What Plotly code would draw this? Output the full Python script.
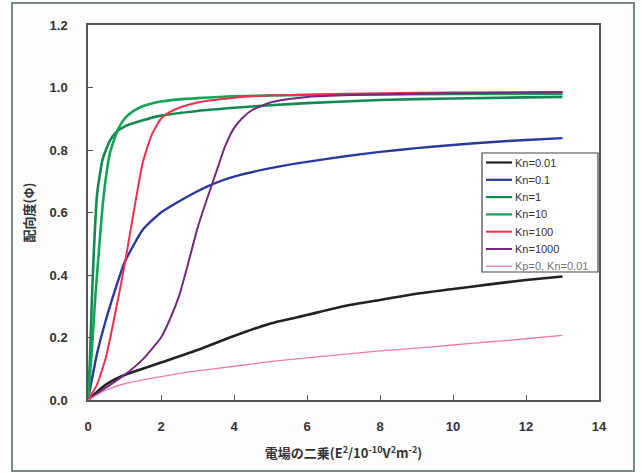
import plotly.graph_objects as go

# ---- data ----
x_kn001 = [0, 0.5, 1, 2, 3, 4, 5, 6, 7, 8, 9, 10, 11, 12, 13]
y_kn001 = [0, 0.05, 0.08, 0.12, 0.16, 0.205, 0.245, 0.272, 0.3, 0.32, 0.34, 0.355, 0.37, 0.384, 0.395]

x_kn01 = [0, 0.25, 0.5, 0.75, 1, 1.5, 2, 2.5, 3, 3.5, 4, 5, 6, 7, 8, 9, 10, 11, 12, 13]
y_kn01 = [0, 0.15, 0.26, 0.355, 0.44, 0.545, 0.6, 0.636, 0.668, 0.695, 0.715, 0.742, 0.762, 0.779, 0.794, 0.806, 0.816, 0.825, 0.832, 0.838]

x_kn1 = [0, 0.05, 0.1, 0.15, 0.25, 0.4, 0.6, 0.8, 1.0, 1.5, 2, 3, 4, 5, 6, 8, 10, 13]
y_kn1 = [0, 0.12, 0.3, 0.45, 0.66, 0.77, 0.83, 0.86, 0.875, 0.895, 0.91, 0.925, 0.935, 0.943, 0.95, 0.96, 0.965, 0.97]

x_kn10 = [0, 0.1, 0.2, 0.3, 0.4, 0.5, 0.6, 0.8, 1.0, 1.25, 1.5, 2, 2.5, 3, 4, 6, 8, 10, 13]
y_kn10 = [0, 0.15, 0.33, 0.48, 0.62, 0.72, 0.79, 0.86, 0.9, 0.925, 0.94, 0.955, 0.962, 0.966, 0.972, 0.976, 0.978, 0.979, 0.98]

x_kn100 = [0, 0.25, 0.5, 0.75, 1, 1.25, 1.5, 1.75, 2, 2.25, 2.5, 3, 4, 5, 6, 8, 10, 13]
y_kn100 = [0, 0.05, 0.14, 0.28, 0.43, 0.6, 0.76, 0.85, 0.9, 0.922, 0.935, 0.952, 0.967, 0.975, 0.978, 0.982, 0.984, 0.986]

x_kn1000 = [0, 0.5, 1, 1.5, 2, 2.25, 2.5, 2.75, 3, 3.25, 3.5, 3.75, 4, 4.25, 4.5, 5, 5.5, 6, 7, 8, 10, 13]
y_kn1000 = [0, 0.04, 0.08, 0.13, 0.2, 0.26, 0.335, 0.44, 0.55, 0.64, 0.725, 0.81, 0.87, 0.905, 0.928, 0.952, 0.963, 0.97, 0.975, 0.978, 0.982, 0.985]

x_kp0 = [0, 0.5, 1, 2, 3, 4, 5, 6, 7, 8, 9, 10, 11, 12, 13]
y_kp0 = [0, 0.032, 0.052, 0.075, 0.093, 0.108, 0.123, 0.135, 0.146, 0.157, 0.166, 0.176, 0.186, 0.196, 0.207]

series_names = ["Kn=0.01", "Kn=0.1", "Kn=1", "Kn=10", "Kn=100", "Kn=1000", "Kp=0, Kn=0.01"]
series_x = [x_kn001, x_kn01, x_kn1, x_kn10, x_kn100, x_kn1000, x_kp0]
series_y = [y_kn001, y_kn01, y_kn1, y_kn10, y_kn100, y_kn1000, y_kp0]
series_colors = ["#222222", "#2a3a9c", "#138a52", "#12a558", "#f2304e", "#74287e", "#f27aa8"]
series_widths = [2.6, 2.4, 2.6, 2.6, 2.0, 2.0, 1.3]

x_ticks = [0, 2, 4, 6, 8, 10, 12, 14]
y_ticks = [0.0, 0.2, 0.4, 0.6, 0.8, 1.0, 1.2]
y_tick_text = ["0.0", "0.2", "0.4", "0.6", "0.8", "1.0", "1.2"]

fig = go.Figure()
for name, xs, ys, c, w in zip(series_names, series_x, series_y, series_colors, series_widths):
    fig.add_trace(go.Scatter(x=xs, y=ys, name=name, mode="lines", showlegend=False,
                             line=dict(color=c, width=w, shape="spline", smoothing=0.5)))

# plot-area geometry in pixels (for the compact legend box)
ML, MR, MT, MB, W, H = 88, 43, 25, 73, 642, 473
PW, PH = W - ML - MR, H - MT - MB


def px_x(px):
    return (px - ML) / PW


def px_y(py):
    return (H - MB - py) / PH


# compact legend drawn as shapes + annotations
lg_left, lg_right, lg_top, lg_bottom = 482, 598, 153, 272
fig.add_shape(type="rect", xref="paper", yref="paper",
              x0=px_x(lg_left), x1=px_x(lg_right), y0=px_y(lg_bottom), y1=px_y(lg_top),
              line=dict(color="#444444", width=1.2), fillcolor="#ffffff", layer="above")
row0, row_step = 162.5, 17.3
for i, (name, c, w) in enumerate(zip(series_names, series_colors, series_widths)):
    yy = px_y(row0 + i * row_step)
    fig.add_shape(type="line", xref="paper", yref="paper",
                  x0=px_x(486), x1=px_x(512), y0=yy, y1=yy,
                  line=dict(color=c, width=min(w, 2.2)), layer="above")
    fig.add_annotation(xref="paper", yref="paper", x=px_x(513), y=yy, text=name,
                       showarrow=False, xanchor="left", yanchor="middle",
                       font=dict(family="Liberation Sans, Arial, sans-serif", size=11,
                                 color="#333333" if i < 6 else "#777777"))

fig.update_layout(
    width=W, height=H,
    margin=dict(l=ML, r=MR, t=MT, b=MB),
    paper_bgcolor="#fdfdfd", plot_bgcolor="#ffffff",
    showlegend=False,
    xaxis=dict(range=[0, 14], tickvals=x_ticks, ticks="inside", ticklen=5,
               tickcolor="#555555", showgrid=False, zeroline=False,
               showline=True, linecolor="#555555", linewidth=1.5, mirror=True,
               tickfont=dict(family="Liberation Sans, Arial, sans-serif", size=13, color="#333333", weight="bold"),
               ticklabelstandoff=14,
               title=dict(text="電場の二乗(E<sup>2</sup>/10<sup>-10</sup>V<sup>2</sup>m<sup>-2</sup>)",
                          font=dict(family="Noto Sans CJK JP", size=13, color="#333333", weight="bold"),
                          standoff=16)),
    yaxis=dict(range=[0, 1.2], tickvals=y_ticks, ticktext=y_tick_text, ticks="inside", ticklen=5,
               tickcolor="#555555", showgrid=False, zeroline=False,
               showline=True, linecolor="#555555", linewidth=1.5, mirror=True,
               tickfont=dict(family="Liberation Sans, Arial, sans-serif", size=13, color="#333333", weight="bold"),
               ticklabelstandoff=16,
               title=dict(text="配向度(Φ)",
                          font=dict(family="Noto Sans CJK JP", size=13, color="#333333", weight="bold"),
                          standoff=12)),
)

# outer frame of the figure
fig.add_shape(type="rect", xref="paper", yref="paper",
              x0=px_x(12), x1=px_x(634), y0=px_y(471), y1=px_y(3),
              line=dict(color="#7a8888", width=2), fillcolor="rgba(0,0,0,0)", layer="below")

fig.write_html("out.html")
